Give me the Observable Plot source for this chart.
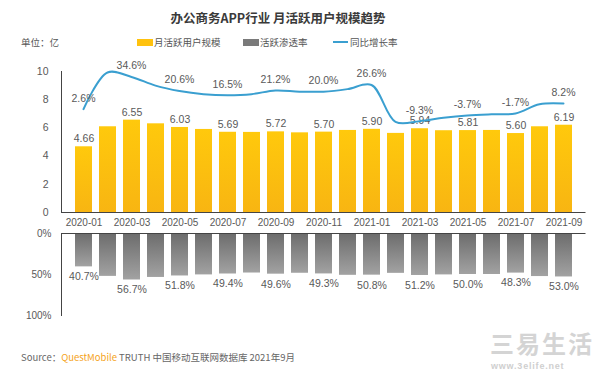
<!DOCTYPE html>
<html><head><meta charset="utf-8">
<script src="https://cdn.jsdelivr.net/npm/d3@7"></script>
<script src="https://cdn.jsdelivr.net/npm/@observablehq/plot@0.6"></script>
<style>
body{margin:0;background:#fff;font-family:"Liberation Sans","Noto Sans CJK SC",sans-serif;}
#wrap{position:relative;width:600px;height:371px;overflow:hidden;background:#fff;}
.abs{position:absolute;white-space:nowrap;}
.cjk{font-family:"Noto Sans CJK SC","Liberation Sans",sans-serif;}
</style></head><body><div id="wrap">
<div class="abs cjk" style="left:0;width:556px;text-align:center;top:8px;font-size:12.5px;font-weight:bold;color:#3a3a3a;">办公商务APP行业 月活跃用户规模趋势</div>
<div class="abs cjk" style="left:21px;top:35px;font-size:9.5px;color:#555;">单位：亿</div>
<div class="abs" style="left:137px;top:39px;width:16px;height:7px;background:#ffc20e;"></div>
<div class="abs cjk" style="left:154px;top:35px;font-size:9.5px;color:#555;">月活跃用户规模</div>
<div class="abs" style="left:243px;top:39px;width:16px;height:7px;background:#7a7a7a;"></div>
<div class="abs cjk" style="left:260px;top:35px;font-size:9.5px;color:#555;">活跃渗透率</div>
<div class="abs" style="left:333px;top:41px;width:15px;height:2px;background:#3a9fd0;"></div>
<div class="abs cjk" style="left:350px;top:35px;font-size:9.5px;color:#555;">同比增长率</div>
<div id="up" class="abs" style="left:0;top:60px;"></div>
<div id="ln" class="abs" style="left:0;top:60px;"></div>
<div id="lo" class="abs" style="left:0;top:230px;"></div>
<div class="abs cjk" style="left:21px;top:350px;font-size:9.5px;color:#666;">Source：<span style="color:#f5a31a;">QuestMobile</span> TRUTH 中国移动互联网数据库 2021年9月</div>
<div class="abs cjk" style="left:490px;top:330px;font-size:24px;line-height:25px;font-weight:bold;color:#d4d4d4;letter-spacing:2px;">三易生活</div>
<div class="abs" style="left:491px;top:362px;font-size:9px;line-height:9px;font-weight:bold;color:#cfcfcf;letter-spacing:0.8px;">www.3elife.net</div>
</div>
<script>
const months = ["2020-01","2020-02","2020-03","2020-04","2020-05","2020-06","2020-07","2020-08","2020-09","2020-10","2020-11","2020-12","2021-01","2021-02","2021-03","2021-04","2021-05","2021-06","2021-07","2021-08","2021-09"];
const mau = [4.66, 6.08, 6.55, 6.29, 6.03, 5.89, 5.69, 5.68, 5.72, 5.65, 5.70, 5.82, 5.90, 5.61, 5.94, 5.80, 5.81, 5.82, 5.60, 6.08, 6.19];
const yoy = [2.6, 39.0, 34.6, 26.0, 20.6, 17.5, 16.5, 17.5, 21.2, 20.0, 20.0, 22.5, 26.6, -10.0, -9.3, -6.0, -3.7, -2.5, -1.7, 7.5, 8.2];
const pen = [40.7, 52.3, 56.7, 53.6, 51.8, 50.5, 49.4, 48.2, 49.6, 48.5, 49.3, 51.0, 50.8, 48.6, 51.2, 50.5, 50.0, 50.0, 48.3, 52.5, 53.0];
const yTicks = [0, 2, 4, 6, 8, 10];
const penTicks = [0, 50, 100];

const data = months.map((m, i) => ({month: m, mau: mau[i], yoy: yoy[i], pen: pen[i], i}));
const labeled = data.filter(d => d.i % 2 === 0);
const xTicks = months.filter((m, i) => i % 2 === 0);
const font = "Liberation Sans, Noto Sans CJK SC, sans-serif";
const xOpts = {domain: months, paddingInner: 0.3, paddingOuter: 0.165};
const M = {marginLeft: 61, marginRight: 14.5};
const style = {fontFamily: font, fontSize: "10px", color: "#595959", background: "transparent", overflow: "visible"};

function addDefs(svg, html) {
  const d = document.createElementNS("http://www.w3.org/2000/svg", "defs");
  d.innerHTML = html;
  svg.insertBefore(d, svg.firstChild);
}

const upper = Plot.plot({
  width: 600, height: 170, marginTop: 11, marginBottom: 18, ...M, style,
  x: xOpts, y: {domain: [0, 10]},
  marks: [
    Plot.barY(data, {x: "month", y: "mau", fill: "url(#gradY)"}),
    Plot.text(labeled, {x: "month", y: "mau", text: d => d.mau.toFixed(2), dy: -8, fill: "#595959", fontSize: 10.5}),
    Plot.axisY({ticks: yTicks, tickSize: 0, tickPadding: 13, label: null, fontSize: 10.5}),
    Plot.axisX({ticks: xTicks, tickSize: 0, tickPadding: 6, label: null, fontSize: 10}),
    Plot.frame({anchor: "left", stroke: "#444"}),
    Plot.ruleY([0], {stroke: "#444"})
  ]
});
addDefs(upper, '<linearGradient id="gradY" x1="0" y1="0" x2="0" y2="1"><stop offset="0" stop-color="#ffc90c"/><stop offset="1" stop-color="#f8b512"/></linearGradient>');
document.getElementById("up").appendChild(upper);

const linePlot = Plot.plot({
  width: 600, height: 170, marginTop: 11, marginBottom: 18, ...M, style,
  x: {...xOpts, axis: null}, y: {domain: [-100, 40], axis: null},
  marks: [
    Plot.line(data, {x: "month", y: "yoy", stroke: "#3a9fd0", strokeWidth: 2, curve: "catmull-rom"}),
    Plot.text(labeled, {x: "month", y: "yoy", text: d => d.yoy.toFixed(1) + "%", dy: -11, fill: "#595959", fontSize: 10.5})
  ]
});
document.getElementById("ln").appendChild(linePlot);

const lower = Plot.plot({
  width: 600, height: 90, marginTop: 3, marginBottom: 5, ...M, style,
  x: {...xOpts, axis: null}, y: {domain: [0, 100], reverse: true},
  marks: [
    Plot.barY(data, {x: "month", y1: 0, y2: "pen", fill: "url(#gradG)"}),
    Plot.text(labeled, {x: "month", y: "pen", text: d => d.pen.toFixed(1) + "%", dy: 10, fill: "#595959", fontSize: 10.5}),
    Plot.axisY({ticks: penTicks, tickFormat: d => d + "%", tickSize: 0, tickPadding: 10, label: null, fontSize: 10}),
    Plot.frame({anchor: "left", stroke: "#444"}),
    Plot.ruleY([0], {stroke: "#444"})
  ]
});
addDefs(lower, '<linearGradient id="gradG" x1="0" y1="0" x2="0" y2="1"><stop offset="0" stop-color="#6c6c6c"/><stop offset="1" stop-color="#a2a2a2"/></linearGradient>');
document.getElementById("lo").appendChild(lower);
</script>
</body></html>
